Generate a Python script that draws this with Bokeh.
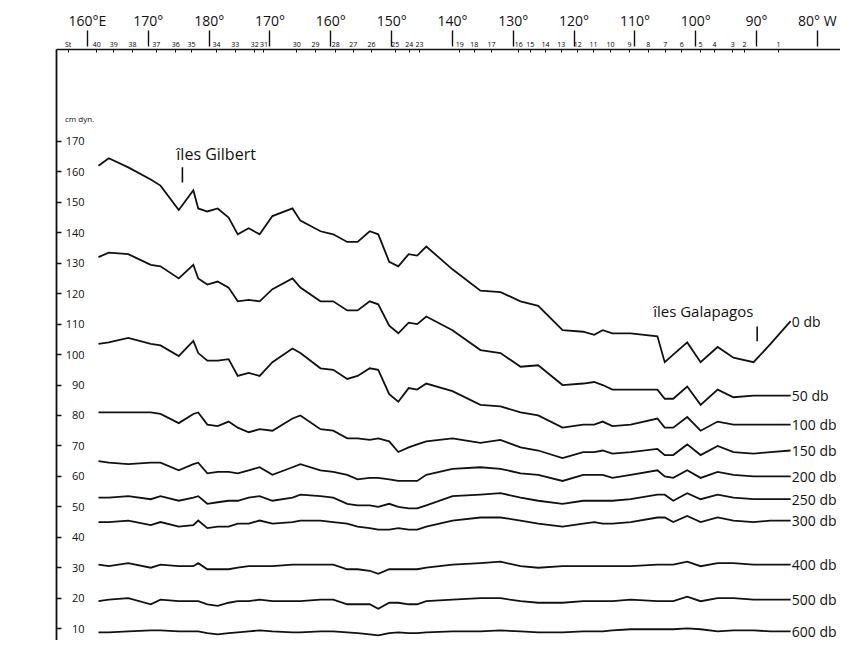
from bokeh.plotting import figure
from bokeh.models import Range1d, LinearAxis, FixedTicker, ColumnDataSource
from bokeh.core.properties import value
from bokeh.embed import file_html
from bokeh.resources import INLINE

# longitudes in degrees east (190 = 170 W, 280 = 80 W)
lon = [161.8, 163.5, 166.7, 170.4, 172.0, 175.0, 177.4, 178.2, 179.7, 181.4,
       183.2, 184.7, 186.5, 188.3, 190.4, 193.7, 195.0, 198.3, 200.4, 202.7,
       204.4, 206.4, 207.8, 209.6, 211.1, 212.8, 214.2, 215.7, 220.0, 224.6,
       227.9, 231.2, 234.1, 238.1, 241.5, 243.3, 244.7, 246.3, 249.3, 253.7,
       254.9, 256.3, 258.6, 260.8, 263.6, 266.2, 269.5, 272.3, 275.6]

h0 = [162, 164.5, 161.5, 157.5, 155.5, 147.5, 154, 148, 147, 148,
      145, 139.5, 141.5, 139.5, 145.5, 148, 144, 140.5, 139.5, 137,
      137, 140.5, 139.5, 130.5, 129, 133, 132.5, 135.5, 128, 121,
      120.5, 117.5, 116, 108, 107.5, 106.5, 108, 107, 107, 106,
      97.5, 100, 104, 97.5, 102.5, 99, 97.5, 103.5, 111]
h50 = [132, 133.5, 133, 129.5, 129, 125, 129.5, 125, 123, 124,
       122, 117.5, 118, 117.5, 121.5, 125, 122, 117.5, 117.5, 114.5,
       114.5, 117.5, 116.5, 109.5, 107, 110.5, 110, 112.5, 108, 101.5,
       100.5, 96, 96.5, 90, 90.5, 91, 90, 88.5, 88.5, 88.5,
       85.5, 85.5, 89.5, 83.5, 88.5, 86, 86.5, 86.5, 86.5]
h100 = [103.5, 104, 105.5, 103.5, 103, 99.5, 104.5, 100.5, 98, 98,
        98.5, 93, 94, 93, 97.5, 102, 100.5, 95.5, 95, 92,
        93, 95.5, 95, 87, 84.5, 89, 88.5, 90.5, 88, 83.5,
        83, 81, 80, 76, 77, 77, 78, 76.5, 77, 79,
        76, 76, 79.5, 75, 78, 77, 77, 77, 77]
h150 = [81, 81, 81, 81, 80.5, 77.5, 80.5, 81, 77, 76.5,
        78, 76, 74.5, 75.5, 75, 79, 80, 75.5, 75, 72.5,
        72.5, 72, 72.5, 71.5, 68, 69.5, 70.5, 71.5, 72.5, 71,
        72, 69.5, 68.5, 66, 68, 68, 68.5, 67.5, 68, 69,
        67, 67, 70.5, 67, 70, 68, 67.5, 68, 68.5]
h200 = [65, 64.5, 64, 64.5, 64.5, 62, 64, 64.5, 61, 61.5,
        61.5, 61, 62, 63, 60.5, 63, 64, 62, 61.5, 60.5,
        59, 59.5, 59.5, 59, 58.5, 58.5, 58.5, 60.5, 62.5, 63,
        62.5, 61, 60.5, 58.5, 60.5, 60.5, 60.5, 59.5, 60.5, 62,
        60, 59.5, 62, 59.5, 61.5, 60.5, 60, 60, 60]
h250 = [53, 53, 53.5, 52.5, 53.5, 52, 53, 53.5, 51, 51.5,
        52, 52, 53, 53.5, 52, 53, 54, 53.5, 53, 51,
        50.5, 50.5, 50, 51, 50, 49.5, 49.5, 50.5, 53.5, 54,
        54.5, 53, 52, 51, 52, 52, 52, 52, 52.5, 54,
        54, 52, 54.5, 52.5, 54, 53, 52.5, 52.5, 52.5]
h300 = [45, 45, 45.5, 44, 45, 43.5, 44, 45.5, 43, 43.5,
        43.5, 44.5, 44.5, 45.5, 44.5, 45, 45.5, 45.5, 45, 44.5,
        43.5, 43, 42.5, 42.5, 43, 42.5, 42.5, 43.5, 45.5, 46.5,
        46.5, 45.5, 44.5, 43.5, 44.5, 45, 44.5, 44.5, 45, 46.5,
        46.5, 45, 47, 45, 46.5, 45.5, 45, 45.5, 45.5]
h400 = [31, 30.5, 31.5, 30, 31, 30.5, 30.5, 31.5, 29.5, 29.5,
        29.5, 30, 30.5, 30.5, 30.5, 31, 31, 31, 31, 29.5,
        29.5, 29, 28, 29.5, 29.5, 29.5, 29.5, 30, 31, 31.5,
        32, 30.5, 30, 30.5, 30.5, 30.5, 30.5, 30.5, 30.5, 31,
        31, 31, 32, 30.5, 31.5, 31.5, 31, 31, 31]
h500 = [19, 19.5, 20, 18, 19.5, 19, 19, 19, 18, 17.5,
        18.5, 19, 19, 19.5, 19, 19, 19, 19.5, 19.5, 18,
        18, 18, 16.5, 18.5, 18.5, 18, 18, 19, 19.5, 20,
        20, 19, 18.5, 18.5, 19, 19, 19, 19, 19.5, 19,
        19, 19, 20.5, 19, 20, 20, 19.5, 19.5, 19.5]
h600 = [8.8, 8.8, 9.1, 9.4, 9.4, 9.1, 9.1, 9.1, 8.5, 8.1,
        8.5, 8.8, 9.1, 9.4, 9.1, 8.8, 8.8, 9.1, 9.1, 8.8,
        8.5, 8.1, 7.8, 8.5, 8.8, 8.5, 8.5, 8.8, 9.1, 9.1,
        9.4, 9.1, 8.8, 8.8, 9.1, 9.1, 9.1, 9.4, 9.8, 9.8,
        9.8, 9.8, 10.1, 9.8, 9.1, 9.4, 9.4, 9.1, 9.1]

series = [h0, h50, h100, h150, h200, h250, h300, h400, h500, h600]
series_labels = ["0 db", "50 db", "100 db", "150 db", "200 db", "250 db",
                 "300 db", "400 db", "500 db", "600 db"]

y_ticks = [10, 20, 30, 40, 50, 60, 70, 80, 90, 100, 110, 120, 130, 140, 150, 160, 170]

lon_ticks = [160, 170, 180, 190, 200, 210, 220, 230, 240, 250, 260, 270, 280]
lon_tick_labels = ["160°E", "170°", "180°", "170°", "160°", "150°", "140°",
                   "130°", "120°", "110°", "100°", "90°", "80° W"]

station_names = ["40", "39", "38", "37", "36", "35", "34", "33", "32", "31",
                 "30", "29", "28", "27", "26", "25", "24", "23", "19", "18",
                 "17", "16", "15", "14", "13", "12", "11", "10", "9", "8",
                 "7", "6", "5", "4", "3", "2", "1"]
station_lon = [161.5, 164.3, 167.4, 171.3, 174.5, 177.1, 181.2, 184.3, 187.5, 189.0,
               194.4, 197.5, 200.8, 203.7, 206.7, 210.6, 212.9, 214.6, 221.2, 223.6,
               226.4, 230.9, 232.8, 235.3, 237.9, 240.6, 243.2, 246.0, 249.1, 252.2,
               255.0, 257.7, 260.8, 263.1, 266.1, 268.0, 273.6]

FONT = "Open Sans"
INK = "#111111"

p = figure(width=840, height=640, output_backend="svg", toolbar_location=None,
           x_axis_location=None, y_axis_location=None,
           x_range=Range1d(154.9, 283.8), y_range=Range1d(6.1, 200.2),
           min_border_left=56, min_border_right=0, min_border_top=49,
           min_border_bottom=0)
p.outline_line_color = None
p.background_fill_color = "white"
p.grid.visible = False


def plain(ax):
    ax.minor_tick_line_color = None
    ax.minor_tick_in = 0
    ax.minor_tick_out = 0
    ax.axis_line_color = INK
    ax.major_tick_line_color = INK
    ax.major_label_text_font = FONT
    ax.major_label_text_color = INK


# left axis: labels inside the frame
yax = LinearAxis(ticker=FixedTicker(ticks=y_ticks))
plain(yax)
yax.major_tick_in = 5
yax.major_tick_out = 0
yax.major_label_standoff = -28
yax.axis_line_width = 1.8
yax.major_tick_line_width = 1.3
yax.major_label_text_font_size = "11px"
p.add_layout(yax, "left")

# station axis (closest to frame)
st_ticks = [156.8] + station_lon
st_over = {156.8: "St"}
for s, n in zip(station_lon, station_names):
    st_over[s] = n
sax = LinearAxis(ticker=FixedTicker(ticks=st_ticks), major_label_overrides=st_over)
plain(sax)
sax.major_tick_in = 3
sax.major_tick_out = 0
sax.major_label_standoff = 1
sax.axis_line_width = 1.6
sax.major_label_text_font_size = "7px"
sax.major_label_text_color = "black"
p.add_layout(sax, "above")

# longitude axis
lax = LinearAxis(ticker=FixedTicker(ticks=lon_ticks),
                 major_label_overrides=dict(zip(lon_ticks, lon_tick_labels)))
plain(lax)
lax.axis_line_color = None
lax.major_tick_out = 6
lax.major_tick_in = 10
lax.major_tick_line_width = 1.4
lax.major_label_standoff = 1
lax.major_label_text_font_size = "14px"
p.add_layout(lax, "above")

for vals in series:
    p.line(lon, vals, line_color=INK, line_width=1.8, line_join="miter")

# curve labels at the right end of each curve
end_vals = [s[-1] for s in series]
lab_src = ColumnDataSource(dict(x=[lon[-1] + 0.2] * len(series), y=end_vals, t=series_labels))
p.text(x="x", y="y", text="t", source=lab_src, text_font=value(FONT),
       text_font_size="14px", text_baseline="middle", text_align="left",
       text_color=INK)

# unit label
p.text(x=[156.3], y=[177.5], text=["cm dyn."], text_font=value(FONT),
       text_font_size="8px", text_baseline="middle", text_align="left", text_color=INK)

# island annotations
p.text(x=[174.6], y=[166.0], text=["îles Gilbert"], text_font=value(FONT),
       text_font_size="16px", text_baseline="middle", text_align="left", text_color=INK)
p.segment(x0=[175.6], y0=[161.5], x1=[175.6], y1=[156.5], line_color=INK, line_width=1.6)
p.text(x=[253.0], y=[114.2], text=["îles Galapagos"], text_font=value(FONT),
       text_font_size="15px", text_baseline="middle", text_align="left", text_color=INK)
p.segment(x0=[270.1], y0=[109.2], x1=[270.1], y1=[104.4], line_color=INK, line_width=1.6)

open("out.html", "w").write(file_html(p, INLINE))
